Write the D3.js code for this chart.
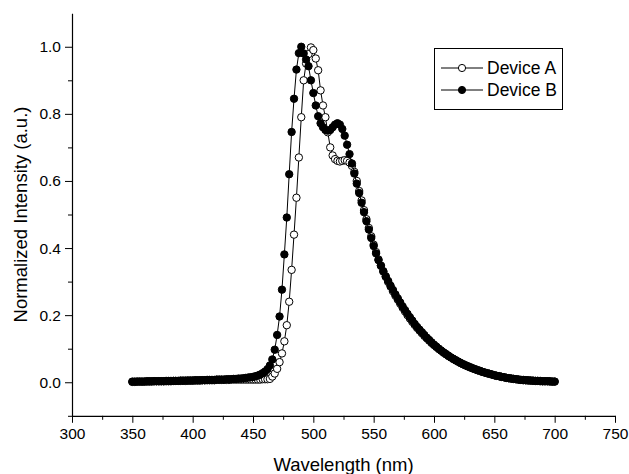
<!DOCTYPE html>
<html><head><meta charset="utf-8">
<script src="https://cdn.jsdelivr.net/npm/d3@7"></script>
<style>
body{margin:0;background:#fff}
svg{display:block}
text{font-family:"Liberation Sans",Arial,Helvetica,sans-serif;fill:#000}
</style>
</head><body>
<svg id="chart" width="629" height="474"></svg>
<script>
// ---------- data ----------
const wavelengths = [
350,352,354,356,358,360,362,364,366,368,
370,372,374,376,378,380,382,384,386,388,
390,392,394,396,398,400,402,404,406,408,
410,412,414,416,418,420,422,424,426,428,
430,432,434,436,438,440,442,444,446,448,
450,452,454,456,458,460,462,464,466,468,
470,472,474,476,478,480,482,484,486,488,
490,492,494,496,498,500,502,504,506,508,
510,512,514,516,518,520,522,524,526,528,
530,532,534,536,538,540,542,544,546,548,
550,552,554,556,558,560,562,564,566,568,
570,572,574,576,578,580,582,584,586,588,
590,592,594,596,598,600,602,604,606,608,
610,612,614,616,618,620,622,624,626,628,
630,632,634,636,638,640,642,644,646,648,
650,652,654,656,658,660,662,664,666,668,
670,672,674,676,678,680,682,684,686,688,
690,692,694,696,698,700];

const deviceA = [
0.001,0.001,0.002,0.002,0.002,0.002,0.002,0.002,0.002,0.003,
0.003,0.003,0.003,0.003,0.003,0.003,0.003,0.004,0.004,0.004,
0.004,0.004,0.004,0.005,0.005,0.005,0.005,0.005,0.005,0.006,
0.006,0.006,0.006,0.006,0.006,0.007,0.007,0.007,0.007,0.007,
0.007,0.008,0.008,0.008,0.008,0.008,0.008,0.008,0.008,0.008,
0.008,0.008,0.008,0.008,0.009,0.009,0.009,0.010,0.017,0.026,
0.040,0.060,0.086,0.122,0.170,0.240,0.335,0.440,0.550,0.670,
0.790,0.900,0.950,0.978,0.998,0.990,0.965,0.930,0.870,0.825,
0.790,0.745,0.700,0.676,0.665,0.660,0.658,0.660,0.662,0.660,
0.655,0.645,0.627,0.600,0.570,0.542,0.513,0.486,0.460,0.435,
0.410,0.388,0.366,0.348,0.330,0.314,0.299,0.285,0.271,0.258,
0.246,0.234,0.222,0.211,0.200,0.190,0.180,0.171,0.162,0.154,
0.146,0.138,0.131,0.124,0.117,0.111,0.105,0.099,0.094,0.088,
0.083,0.078,0.074,0.069,0.065,0.061,0.057,0.054,0.050,0.047,
0.044,0.041,0.039,0.036,0.034,0.031,0.029,0.027,0.025,0.023,
0.021,0.019,0.018,0.016,0.015,0.013,0.012,0.011,0.010,0.009,
0.008,0.007,0.006,0.006,0.005,0.005,0.004,0.004,0.004,0.003,
0.003,0.003,0.003,0.002,0.002,0.002];

const deviceB = [
0.002,0.002,0.002,0.002,0.002,0.002,0.003,0.003,0.003,0.003,
0.003,0.003,0.003,0.003,0.004,0.004,0.004,0.004,0.004,0.004,
0.005,0.005,0.005,0.005,0.005,0.005,0.006,0.006,0.006,0.006,
0.006,0.007,0.007,0.007,0.007,0.008,0.008,0.008,0.008,0.009,
0.009,0.009,0.010,0.010,0.011,0.011,0.012,0.013,0.014,0.015,
0.016,0.018,0.020,0.023,0.027,0.032,0.039,0.050,0.068,0.097,
0.141,0.196,0.276,0.381,0.491,0.620,0.746,0.845,0.932,0.981,
1.000,0.980,0.962,0.942,0.900,0.862,0.825,0.793,0.772,0.760,
0.752,0.750,0.752,0.760,0.768,0.772,0.768,0.755,0.735,0.708,
0.680,0.652,0.622,0.592,0.564,0.535,0.507,0.480,0.455,0.430,
0.406,0.384,0.364,0.347,0.331,0.316,0.302,0.288,0.275,0.262,
0.250,0.238,0.226,0.215,0.204,0.194,0.184,0.174,0.165,0.157,
0.149,0.141,0.133,0.126,0.119,0.112,0.106,0.100,0.094,0.089,
0.084,0.079,0.074,0.070,0.066,0.062,0.058,0.054,0.051,0.048,
0.045,0.042,0.039,0.036,0.034,0.031,0.029,0.027,0.025,0.023,
0.021,0.019,0.018,0.016,0.015,0.013,0.012,0.011,0.010,0.009,
0.008,0.007,0.007,0.006,0.006,0.005,0.005,0.004,0.004,0.004,
0.003,0.003,0.003,0.003,0.002,0.002];

const seriesNames = ["Device A", "Device B"];
const xMajorTicks = [300,350,400,450,500,550,600,650,700,750];
const xMinorTicks = [325,375,425,475,525,575,625,675,725];
const yMajorTicks = [0.0,0.2,0.4,0.6,0.8,1.0];
const yMinorTicks = [-0.1,0.1,0.3,0.5,0.7,0.9];
const xTitle = "Wavelength (nm)";
const yTitle = "Normalized Intensity (a.u.)";

// ---------- chart ----------
const svg = d3.select("#chart");
svg.append("rect").attr("width",629).attr("height",474).attr("fill","#fff");

const x = d3.scaleLinear().domain([300,750]).range([72,615]);
const y = d3.scaleLinear().domain([-0.1,1.1]).range([415.8,13.2]);

const series = [
  {name: seriesNames[0], values: deviceA, fill: "#fff"},
  {name: seriesNames[1], values: deviceB, fill: "#000"}
];

const line = d3.line().x(d => x(d[0])).y(d => y(d[1]));
const plot = svg.append("g");
series.forEach(s => {
  const n = Math.min(wavelengths.length, s.values.length);
  const pts = d3.range(n).map(i => [wavelengths[i], s.values[i]]);
  const g = plot.append("g");
  g.append("path").datum(pts).attr("d", line)
    .attr("fill","none").attr("stroke","#000").attr("stroke-width",1);
  g.selectAll("circle").data(pts).join("circle")
    .attr("cx", d => x(d[0])).attr("cy", d => y(d[1])).attr("r", 3.7)
    .attr("fill", s.fill).attr("stroke","#000").attr("stroke-width",1);
});

// axes
const fmtY = d3.format(".1f");
const xAxisY = y(-0.1);
const gx = svg.append("g").attr("transform",`translate(0,${xAxisY})`)
  .call(d3.axisBottom(x).tickValues(xMajorTicks).tickSize(7).tickSizeOuter(0).tickPadding(5));
const gxm = svg.append("g").attr("transform",`translate(0,${xAxisY})`)
  .call(d3.axisBottom(x).tickValues(xMinorTicks).tickSize(4).tickFormat(""));
gxm.select(".domain").remove();
const gy = svg.append("g").attr("transform",`translate(${x(300)},0)`)
  .call(d3.axisLeft(y).tickValues(yMajorTicks).tickSize(7).tickSizeOuter(0).tickPadding(4).tickFormat(fmtY));
const gym = svg.append("g").attr("transform",`translate(${x(300)},0)`)
  .call(d3.axisLeft(y).tickValues(yMinorTicks).tickSize(4).tickFormat(""));
gym.select(".domain").remove();

svg.selectAll(".tick line").attr("stroke","#000").attr("stroke-width",1);
svg.selectAll(".domain").attr("stroke","#000").attr("stroke-width",1.2);
svg.selectAll(".tick text").attr("font-size",15.5)
  .attr("font-family",'"Liberation Sans",Arial,sans-serif').attr("fill","#000");

svg.append("text").attr("x", (x(300)+x(750))/2).attr("y", 471)
  .attr("text-anchor","middle").attr("font-size",18.5).text(xTitle);
svg.append("text").attr("transform",`translate(27,${y(0.5)}) rotate(-90)`)
  .attr("text-anchor","middle").attr("font-size",18.5).text(yTitle);

// legend
const lg = svg.append("g");
lg.append("rect").attr("x",434.5).attr("y",48.5).attr("width",128).attr("height",61)
  .attr("fill","#fff").attr("stroke","#000").attr("stroke-width",1);
series.forEach((s,i) => {
  const cy = 68 + i*22;
  lg.append("line").attr("x1",441).attr("x2",483).attr("y1",cy).attr("y2",cy)
    .attr("stroke","#000").attr("stroke-width",1);
  lg.append("circle").attr("cx",462).attr("cy",cy).attr("r",3.6)
    .attr("fill",s.fill).attr("stroke","#000").attr("stroke-width",1);
  lg.append("text").attr("x",487).attr("y",cy+6).attr("font-size",17.5).text(s.name);
});
</script>
</body></html>
